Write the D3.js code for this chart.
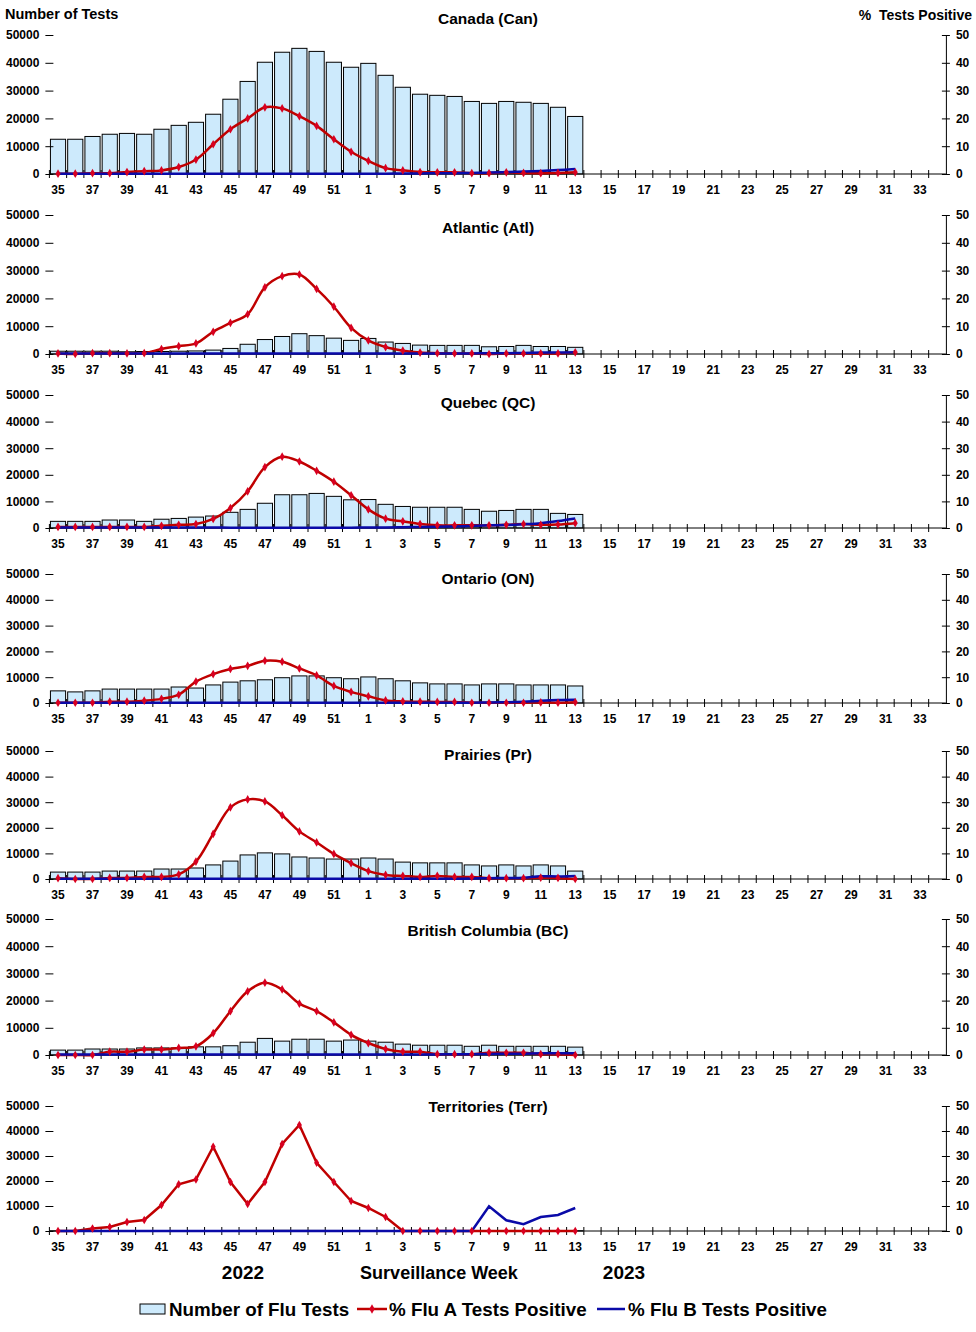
<!DOCTYPE html>
<html>
<head>
<meta charset="utf-8">
<script src="https://cdn.jsdelivr.net/npm/d3@7"></script>
<style>
  body { margin: 0; background: #fff; }
  text { font-family: 'Liberation Sans', Arial, sans-serif; font-weight: bold; fill: #000; }
</style>
</head>
<body>
<div id="chart"></div>
<script>
// surveillance weeks 2022-35 .. 2023-34
var weeks = [35, 36, 37, 38, 39, 40, 41, 42, 43, 44, 45, 46, 47, 48, 49, 50, 51, 52,
  1, 2, 3, 4, 5, 6, 7, 8, 9, 10, 11, 12, 13, 14, 15, 16, 17, 18, 19, 20, 21, 22,
  23, 24, 25, 26, 27, 28, 29, 30, 31, 32, 33, 34]

var leftTicks = [0, 10000, 20000, 30000, 40000, 50000]
var rightTicks = [0, 10, 20, 30, 40, 50]

var regionNames = ['Canada (Can)', 'Atlantic (Atl)', 'Quebec (QC)', 'Ontario (ON)',
  'Prairies (Pr)', 'British Columbia (BC)', 'Territories (Terr)']

// number of flu tests, weeks 35..13
var canTests = [12500, 12500, 13500, 14300, 14600, 14300, 16100, 17500, 18600, 21500, 26900, 33300, 40200, 43800, 45200, 44100, 40200, 38400,
  39800, 35500, 31200, 28700, 28300, 27900, 26100, 25400, 26100, 25800, 25400, 24000, 20700]
var atlTests = [1000, 1000, 1000, 1000, 800, 900, 900, 1000, 1100, 1400, 2000, 3500, 5200, 6300, 7300, 6600, 5700, 4900,
  5600, 4300, 3800, 3200, 3100, 3100, 3100, 2600, 2700, 3100, 2700, 2700, 2400]
var qcTests = [2500, 2500, 2500, 3000, 3000, 2500, 3300, 3600, 4100, 4500, 5900, 7000, 9300, 12500, 12500, 13000, 11900, 10600,
  10700, 8900, 8100, 7800, 7800, 7800, 7000, 6300, 6600, 7000, 7000, 5500, 5100]
var onTests = [4700, 4300, 4700, 5400, 5400, 5400, 5400, 6200, 5800, 7000, 8100, 8600, 9000, 9800, 10500, 10500, 9800, 9400,
  10100, 9400, 8600, 7800, 7400, 7400, 7000, 7400, 7400, 7000, 7000, 7000, 6600]
var prTests = [2700, 2700, 2700, 3100, 3100, 3100, 3900, 3900, 4300, 5500, 7000, 9400, 10200, 9800, 8600, 8200, 7800, 7800,
  8200, 7800, 6600, 6300, 6300, 6300, 5500, 5100, 5500, 5100, 5500, 5100, 3100]
var bcTests = [1800, 1800, 2200, 2200, 2200, 2600, 2600, 2600, 3000, 3000, 3400, 4700, 6100, 5100, 5800, 5800, 5100, 5500,
  5100, 4700, 4000, 3600, 3600, 3600, 3200, 3600, 3200, 3200, 3200, 3200, 2900]
var terrTests = [60, 70, 90, 110, 120, 130, 150, 170, 180, 200, 220, 240, 260, 280, 260, 240, 220, 200,
  190, 180, 170, 160, 150, 150, 140, 130, 130, 120, 120, 110, 110]

// % flu A tests positive
var canFluA = [0.1, 0.1, 0.3, 0.3, 0.7, 1.0, 1.3, 2.5, 5.2, 10.7, 16.1, 20.0, 24.0, 23.6, 20.8, 17.3, 12.5, 8.0,
  4.7, 2.1, 1.3, 0.7, 0.6, 0.6, 0.3, 0.3, 0.6, 0.4, 0.3, 0.4, 0.6]
var atlFluA = [0.2, 0, 0.3, 0.3, 0.2, 0.3, 1.8, 2.8, 3.8, 8.0, 11.2, 14.3, 24.0, 28.0, 28.6, 23.4, 17.0, 9.4,
  4.9, 2.5, 1.2, 0.5, 0.3, 0.2, 0.2, 0, 0.2, 0.2, 0.2, 0.2, 0.6]
var qcFluA = [0.4, 0.4, 0.4, 0.4, 0.4, 0.4, 0.8, 1.2, 1.5, 3.4, 7.5, 13.8, 22.9, 26.8, 25.0, 21.5, 17.4, 12.3,
  7.0, 3.5, 2.5, 1.5, 1.0, 1.0, 1.0, 1.0, 1.2, 1.5, 1.2, 1.3, 1.8]
var onFluA = [0.1, 0.1, 0.1, 0.5, 0.5, 0.9, 1.6, 3.2, 8.3, 11.2, 13.2, 14.4, 16.4, 16.0, 13.4, 10.7, 6.6, 4.3,
  2.6, 1.0, 0.6, 0.5, 0.4, 0.4, 0.1, 0.1, 0.1, 0.1, 0.2, 0.1, 0.3]
var prFluA = [0.3, 0, 0, 0.4, 0.4, 0.8, 0.8, 1.8, 6.8, 17.6, 28.0, 31.1, 30.3, 24.9, 18.6, 14.3, 9.8, 6.2,
  3.1, 1.6, 1.2, 0.8, 1.2, 0.8, 0.8, 0.3, 0.3, 0.3, 0.5, 0.4, 0]
var bcFluA = [0, 0, 0, 1.2, 1.2, 2.0, 2.0, 2.6, 3.2, 8.0, 16.1, 23.4, 26.6, 24.1, 18.9, 16.1, 12.0, 7.4,
  4.4, 2.2, 1.2, 1.2, 0.3, 0.3, 0.3, 0.8, 0.8, 0.8, 0.3, 0.3, 0]
var terrFluA = [0, 0, 1.0, 1.6, 3.6, 4.4, 10.4, 18.7, 20.6, 33.7, 19.6, 10.8, 19.6, 34.8, 42.4, 27.3, 19.6, 12.0,
  9.2, 5.6, 0, 0, 0, 0, 0, 0, 0, 0, 0, 0, 0]

// % flu B tests positive
var canFluB = [0.1, 0.1, 0.1, 0.1, 0.1, 0.1, 0.1, 0.1, 0.1, 0.1, 0.1, 0.1, 0.1, 0.1, 0.1, 0.1, 0.1, 0.1,
  0.1, 0.1, 0.2, 0.2, 0.3, 0.3, 0.4, 0.5, 0.7, 0.9, 1.1, 1.4, 1.8]
var atlFluB = [0.2, 0.2, 0.2, 0.2, 0.2, 0.2, 0.2, 0.2, 0.2, 0.2, 0.2, 0.2, 0.2, 0.2, 0.2, 0.2, 0.2, 0.2,
  0.2, 0.2, 0.2, 0.2, 0.2, 0.2, 0.2, 0.3, 0.3, 0.4, 0.5, 0.5, 0.6]
var qcFluB = [0.2, 0.2, 0.2, 0.2, 0.2, 0.2, 0.2, 0.2, 0.2, 0.2, 0.1, 0.1, 0.1, 0.1, 0.1, 0.1, 0.1, 0.1,
  0.2, 0.2, 0.3, 0.4, 0.5, 0.6, 0.8, 1.0, 1.1, 1.4, 1.8, 2.6, 3.6]
var onFluB = [0.1, 0.1, 0.1, 0.1, 0.1, 0.1, 0.1, 0.1, 0.1, 0.1, 0.1, 0.1, 0.1, 0.1, 0.1, 0.1, 0.1, 0.1,
  0.1, 0.1, 0.1, 0.1, 0.1, 0.1, 0.1, 0.2, 0.3, 0.5, 0.9, 1.2, 1.3]
var prFluB = [0.1, 0.1, 0.1, 0.1, 0.1, 0.1, 0.1, 0.1, 0.1, 0.1, 0.1, 0.1, 0.1, 0.1, 0.1, 0.1, 0.1, 0.1,
  0.1, 0.1, 0.1, 0.1, 0.1, 0.1, 0.2, 0.3, 0.4, 0.5, 1.1, 1.0, 1.2]
var bcFluB = [0.2, 0.2, 0.2, 0.2, 0.2, 0.2, 0.2, 0.2, 0.2, 0.2, 0.2, 0.2, 0.2, 0.2, 0.2, 0.2, 0.2, 0.2,
  0.2, 0.2, 0.2, 0.2, 0.2, 0.3, 0.3, 0.4, 0.5, 0.5, 0.6, 0.6, 0.6]
var terrFluB = [0, 0, 0, 0, 0, 0, 0, 0, 0, 0, 0, 0, 0, 0, 0, 0, 0, 0,
  0, 0, 0, 0, 0, 0, 0, 9.9, 4.3, 2.7, 5.6, 6.4, 9.2]

var testsByRegion = [canTests, atlTests, qcTests, onTests, prTests, bcTests, terrTests]
var fluAByRegion = [canFluA, atlFluA, qcFluA, onFluA, prFluA, bcFluA, terrFluA]
var fluBByRegion = [canFluB, atlFluB, qcFluB, onFluB, prFluB, bcFluB, terrFluB]

// panel layout: plot top / bottom in px, title baseline, smoothed lines or not
var panels = [
  { top: 35, bottom: 174, titleY: 24, smooth: true },
  { top: 215, bottom: 354, titleY: 233, smooth: true },
  { top: 395, bottom: 528, titleY: 408, smooth: true },
  { top: 574, bottom: 703, titleY: 584, smooth: true },
  { top: 751, bottom: 879, titleY: 760, smooth: true },
  { top: 919, bottom: 1055, titleY: 936, smooth: true },
  { top: 1106, bottom: 1231, titleY: 1112, smooth: false }
]

var width = 976
var height = 1332
var left = 49.4
var right = 945.9

var colors = { bar: '#cdeafc', fluA: '#c00000', marker: '#d80020', fluB: '#0a0aa8' }

var svg = d3
  .select('#chart')
  .append('svg')
  .attr('width', width)
  .attr('height', height)

var x = d3
  .scaleBand()
  .domain(weeks)
  .range([left, right])
  .paddingInner(0.12)
  .paddingOuter(0.06)

var xc = function(w) {
  return x(w) + x.bandwidth() / 2
}

panels.forEach(function(p, i) {
  var g = svg.append('g')
  var yL = d3.scaleLinear().domain([0, 50000]).range([p.bottom, p.top])
  var yR = d3.scaleLinear().domain([0, 50]).range([p.bottom, p.top])

  var tests = testsByRegion[i]
  var fluA = fluAByRegion[i]
  var fluB = fluBByRegion[i]
  var dataWeeks = weeks.slice(0, tests.length)

  // bars
  g.selectAll('.bar')
    .data(tests)
    .enter()
    .append('rect')
    .attr('class', 'bar')
    .attr('x', (d, j) => x(dataWeeks[j]))
    .attr('width', x.bandwidth())
    .attr('y', d => yL(d))
    .attr('height', d => p.bottom - yL(d))
    .attr('fill', colors.bar)
    .attr('stroke', '#000')
    .attr('stroke-width', 1)

  // left axis, no domain line, ticks crossing
  var axL = g
    .append('g')
    .attr('transform', 'translate(' + left + ',0)')
    .call(d3.axisLeft(yL).tickValues(leftTicks).tickFormat(d3.format('d')).tickSize(4).tickPadding(6))
  axL.select('.domain').remove()
  axL.selectAll('line').attr('x1', 4).attr('stroke', '#000')
  axL.selectAll('text').attr('font-size', 12)

  // right axis
  var axR = g
    .append('g')
    .attr('transform', 'translate(' + right + ',0)')
    .call(d3.axisRight(yR).tickValues(rightTicks).tickSize(4).tickSizeOuter(0).tickPadding(6))
  axR.selectAll('line').attr('x1', -4).attr('stroke', '#000')
  axR.select('.domain').attr('stroke', '#000')
  axR.selectAll('text').attr('font-size', 12)

  // x axis
  g.append('line')
    .attr('x1', left)
    .attr('x2', right)
    .attr('y1', p.bottom)
    .attr('y2', p.bottom)
    .attr('stroke', '#000')

  g.selectAll('.xtick')
    .data(weeks)
    .enter()
    .append('line')
    .attr('class', 'xtick')
    .attr('x1', d => x(d) - (x.step() * x.paddingInner()) / 2)
    .attr('x2', d => x(d) - (x.step() * x.paddingInner()) / 2)
    .attr('y1', p.bottom - 4)
    .attr('y2', p.bottom + 4)
    .attr('stroke', '#000')

  g.selectAll('.xlabel')
    .data(weeks.filter((d, j) => j % 2 === 0))
    .enter()
    .append('text')
    .attr('class', 'xlabel')
    .attr('x', d => xc(d))
    .attr('y', p.bottom + 20)
    .attr('text-anchor', 'middle')
    .attr('font-size', 12)
    .text(d => d)

  // lines
  var line = d3
    .line()
    .x((d, j) => xc(dataWeeks[j]))
    .y(d => yR(d))
    .curve(p.smooth ? d3.curveCatmullRom.alpha(0.5) : d3.curveLinear)

  g.append('path')
    .datum(fluA)
    .attr('d', line)
    .attr('fill', 'none')
    .attr('stroke', colors.fluA)
    .attr('stroke-width', 2.5)

  g.append('path')
    .datum(fluB)
    .attr('d', line)
    .attr('fill', 'none')
    .attr('stroke', colors.fluB)
    .attr('stroke-width', 2.5)

  g.selectAll('.marker')
    .data(fluA)
    .enter()
    .append('path')
    .attr('class', 'marker')
    .attr('d', d3.symbol().type(d3.symbolDiamond).size(22))
    .attr('transform', (d, j) => 'translate(' + xc(dataWeeks[j]) + ',' + yR(d) + ')')
    .attr('fill', colors.marker)

  // title
  g.append('text')
    .attr('x', 488)
    .attr('y', p.titleY)
    .attr('text-anchor', 'middle')
    .attr('font-size', 15.5)
    .text(regionNames[i])
})

// axis titles
svg.append('text')
  .attr('x', 5)
  .attr('y', 19)
  .attr('font-size', 14.5)
  .text('Number of Tests')

svg.append('text')
  .attr('x', 972)
  .attr('y', 20)
  .attr('text-anchor', 'end')
  .attr('font-size', 14)
  .attr('xml:space', 'preserve')
  .text('%  Tests Positive')

// bottom labels
svg.append('text').attr('x', 243).attr('y', 1279).attr('text-anchor', 'middle').attr('font-size', 19).text('2022')
svg.append('text').attr('x', 439).attr('y', 1279).attr('text-anchor', 'middle').attr('font-size', 18).text('Surveillance Week')
svg.append('text').attr('x', 624).attr('y', 1279).attr('text-anchor', 'middle').attr('font-size', 19).text('2023')

// legend
var legend = svg.append('g').attr('transform', 'translate(0,1309)')
legend.append('rect')
  .attr('x', 140).attr('y', -5).attr('width', 25).attr('height', 10)
  .attr('fill', colors.bar).attr('stroke', '#000')
legend.append('text').attr('x', 169).attr('y', 6.5).attr('font-size', 18.8).text('Number of Flu Tests')

legend.append('line')
  .attr('x1', 357).attr('x2', 387).attr('y1', 0).attr('y2', 0)
  .attr('stroke', colors.fluA).attr('stroke-width', 2.5)
legend.append('path')
  .attr('d', d3.symbol().type(d3.symbolDiamond).size(26))
  .attr('transform', 'translate(372,0)')
  .attr('fill', colors.marker)
legend.append('text').attr('x', 389).attr('y', 6.5).attr('font-size', 18.8).text('% Flu A Tests Positive')

legend.append('line')
  .attr('x1', 597).attr('x2', 625).attr('y1', 0).attr('y2', 0)
  .attr('stroke', colors.fluB).attr('stroke-width', 2.5)
legend.append('text').attr('x', 628).attr('y', 6.5).attr('font-size', 18.8).text('% Flu B Tests Positive')
</script>
</body>
</html>
